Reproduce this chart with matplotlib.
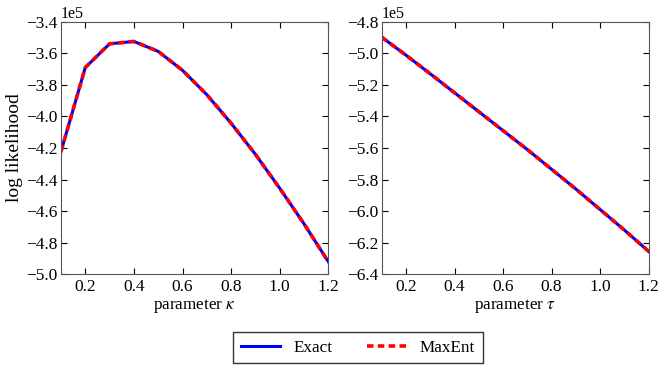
import matplotlib
matplotlib.use("Agg")
import matplotlib.pyplot as plt

kappa = [0.1, 0.2, 0.3, 0.4, 0.5, 0.6, 0.7, 0.8, 0.9, 1.0, 1.1, 1.2]
ll_kappa_exact = [-4.222e5, -3.690e5, -3.540e5, -3.525e5, -3.588e5, -3.708e5,
                  -3.862e5, -4.043e5, -4.240e5, -4.455e5, -4.680e5, -4.920e5]
ll_kappa_maxent = list(ll_kappa_exact)

tau = [0.1, 0.2, 0.3, 0.4, 0.5, 0.6, 0.7, 0.8, 0.9, 1.0, 1.1, 1.2]
ll_tau_exact = [-4.898e5, -5.012e5, -5.130e5, -5.250e5, -5.370e5, -5.490e5,
                -5.610e5, -5.735e5, -5.860e5, -5.990e5, -6.120e5, -6.255e5]
ll_tau_maxent = list(ll_tau_exact)

plt.rcParams['font.family'] = ['Liberation Serif', 'DejaVu Serif']
plt.rcParams['mathtext.fontset'] = 'stix'
plt.rcParams['font.size'] = 12
plt.rcParams['xtick.labelsize'] = 12.5
plt.rcParams['ytick.labelsize'] = 12.5
plt.rcParams['xtick.direction'] = 'in'
plt.rcParams['ytick.direction'] = 'in'
plt.rcParams['xtick.top'] = True
plt.rcParams['ytick.right'] = True
plt.rcParams['xtick.major.size'] = 4
plt.rcParams['ytick.major.size'] = 4
plt.rcParams['xtick.major.pad'] = 3.5
plt.rcParams['ytick.major.pad'] = 2.5

fig = plt.figure(figsize=(6.65, 3.70), dpi=100)
W, H = 665, 370
ax1 = fig.add_axes([61 / W, 1 - 274.3 / H, 267.3 / W, 252.6 / H])
ax2 = fig.add_axes([381.7 / W, 1 - 274.3 / H, 267.0 / W, 252.6 / H])

for ax, x, ye, ym, xl, ylim in [
    (ax1, kappa, ll_kappa_exact, ll_kappa_maxent, r'parameter $\kappa$', (-5.0e5, -3.4e5)),
    (ax2, tau, ll_tau_exact, ll_tau_maxent, r'parameter $\tau$', (-6.4e5, -4.8e5)),
]:
    l1, = ax.plot(x, ye, color='#0000ff', lw=2.2, label='Exact')
    l2, = ax.plot(x, ym, color='#ff0000', lw=2.6, dashes=(1.8, 1.2), label='MaxEnt')
    ax.set_xlim(0.1, 1.2)
    ax.set_ylim(*ylim)
    ax.set_xticks([0.2, 0.4, 0.6, 0.8, 1.0, 1.2])
    ax.set_yticks([ylim[0] + i * 0.2e5 for i in range(9)])
    ax.ticklabel_format(axis='y', style='sci', scilimits=(0, 0))
    ax.yaxis.get_offset_text().set_fontsize(11.5)
    ax.set_xlabel(xl, labelpad=1, fontsize=12.3)
    for s in ax.spines.values():
        s.set_color('#555555')

ax1.set_ylabel('log likelihood', fontsize=14, labelpad=2)

leg = fig.legend([l1, l2], ['Exact', 'MaxEnt'], loc='center',
                 bbox_to_anchor=(358 / W, 1 - 347.8 / H), ncol=2,
                 handlelength=2.3, handletextpad=0.8, columnspacing=2.0,
                 fancybox=False, frameon=True, borderpad=0.45, fontsize=12.3)
leg.get_frame().set_edgecolor('black')
leg.get_frame().set_linewidth(1.0)

fig.savefig('out.png', dpi=100)
